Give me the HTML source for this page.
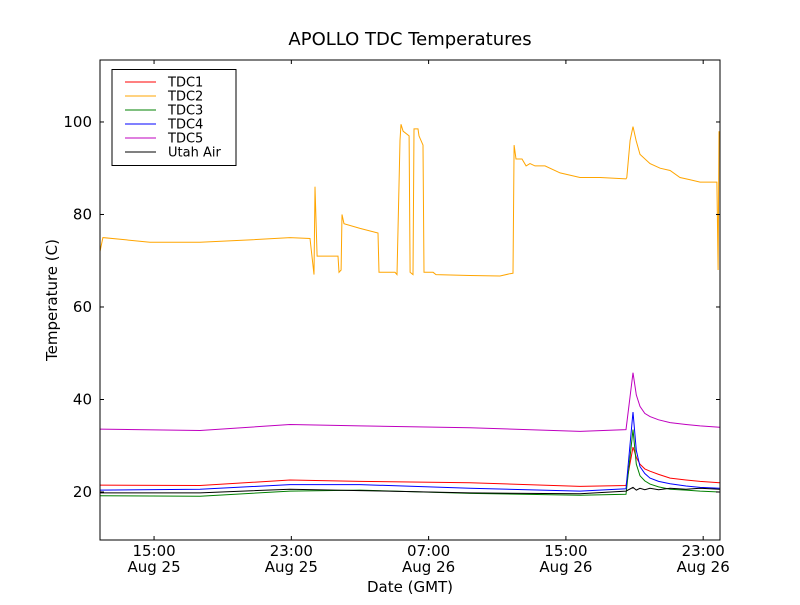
<!DOCTYPE html>
<html><head><meta charset="utf-8"><style>
body{margin:0;background:#fff}
svg text{font-family:"DejaVu Sans","Liberation Sans",sans-serif}
</style></head><body>
<svg id="chart" width="800" height="600" xmlns="http://www.w3.org/2000/svg">
<rect width="800" height="600" fill="#fff"/>
<text x="410" y="45" font-size="18" text-anchor="middle">APOLLO TDC Temperatures</text>
<g id="series"></g>
<rect x="100" y="60" width="620" height="480" fill="none" stroke="#000" stroke-width="1"/>
<g id="ticks"></g>
<text x="410" y="592" font-size="15" text-anchor="middle">Date (GMT)</text>
<text transform="translate(57,300) rotate(-90)" font-size="15" text-anchor="middle">Temperature (C)</text>
<g id="legend"></g>
</svg>
<script>
const seriesNames=["TDC1","TDC2","TDC3","TDC4","TDC5","Utah Air"];
const seriesColors=["#ff0000","#ffa500","#008000","#0000ff","#bf00bf","#000000"];
const tdc2Times=[11.85,12.02,14.76,17.68,20.59,22.92,24.09,24.32,24.38,24.5,25.72,25.78,25.9,25.95,26.07,27.0,28.05,28.11,29.04,29.16,29.33,29.39,29.51,29.86,29.92,30.09,30.15,30.38,30.44,30.67,30.73,31.26,31.43,33.41,35.16,35.74,35.92,35.98,36.09,36.44,36.68,36.91,37.2,37.78,38.66,39.82,41.0,42.5,42.55,42.74,42.91,43.09,43.32,43.9,44.49,45.07,45.65,46.24,46.82,47.8,47.87,47.92];
const tdc2Values=[72,75,74,74,74.5,75,74.8,67,86,71,71,67.5,68,80,78,77,76,67.5,67.5,67,96,99.5,98,97,67.5,67,98.5,98.5,97,95,67.5,67.5,67,66.8,66.7,67.2,67.3,95,92,92,90.5,91,90.5,90.5,89,88,88,87.7,88,96,99,96,93,91,90,89.5,88,87.5,87,87,68,98];
const times=[11.85,17.68,22.92,27.0,33.41,39.82,42.5,42.91,43.1,43.32,43.6,43.9,44.4,45.07,46.0,46.82,47.95];
const tdc1Values=[21.5,21.4,22.6,22.3,22.0,21.2,21.4,29.7,27.5,26,25,24.5,23.8,23,22.6,22.3,22];
const tdc3Values=[19.2,19.1,20.2,20.4,19.7,19.3,19.5,33.5,26,23.5,22.4,21.7,21.1,20.6,20.4,20.2,20];
const tdc4Values=[20.4,20.6,21.6,21.6,20.8,20.2,20.7,37.3,29,25.5,24,23,22.3,21.8,21.3,21,20.8];
const tdc5Values=[33.6,33.3,34.6,34.3,33.9,33.1,33.5,45.8,41,38.5,37,36.3,35.6,35,34.6,34.3,34];
const airValues=[19.8,19.8,20.6,20.3,19.8,19.6,20.2,21,20.4,20.8,20.5,20.8,20.5,20.8,20.6,20.8,20.6];
const yTicks=[20,40,60,80,100];
const xTickHours=[15,23,31,39,47];
const xTickTimes=["15:00","23:00","07:00","15:00","23:00"];
const xTickDates=["Aug 25","Aug 25","Aug 26","Aug 26","Aug 26"];

const NS="http://www.w3.org/2000/svg";
const X0=100,X1=720,Y0=60,Y1=540,HMIN=11.85,HMAX=47.98,VMIN=9.62,VMAX=113.4;
function xs(h){return X0+(h-HMIN)/(HMAX-HMIN)*(X1-X0);}
function ys(v){return Y1-(v-VMIN)/(VMAX-VMIN)*(Y1-Y0);}
function mk(tag,attrs,parent){const e=document.createElementNS(NS,tag);for(const k in attrs)e.setAttribute(k,attrs[k]);parent.appendChild(e);return e;}

const sg=document.getElementById('series');
const allSeries=[[times,tdc1Values],[tdc2Times,tdc2Values],[times,tdc3Values],[times,tdc4Values],[times,tdc5Values],[times,airValues]];
allSeries.forEach((s,i)=>{
  const d=s[0].map((t,j)=>(j?'L':'M')+xs(t).toFixed(1)+' '+ys(s[1][j]).toFixed(1)).join(' ');
  const p=mk('path',{d:d,fill:'none',stroke:seriesColors[i],'stroke-width':1},sg);
  
  
});

const tg=document.getElementById('ticks');
yTicks.forEach(v=>{
  const y=ys(v);
  mk('line',{x1:X0,x2:X0+4,y1:y,y2:y,stroke:'#000'},tg);
  mk('line',{x1:X1-4,x2:X1,y1:y,y2:y,stroke:'#000'},tg);
  const t=mk('text',{x:X0-8,y:y+5,'font-size':15,'text-anchor':'end'},tg);
  
  
  t.textContent=v;
});
xTickHours.forEach((h,i)=>{
  const x=xs(h);
  mk('line',{x1:x,x2:x,y1:Y1,y2:Y1-4,stroke:'#000'},tg);
  mk('line',{x1:x,x2:x,y1:Y0,y2:Y0+4,stroke:'#000'},tg);
  const t=mk('text',{x:x,y:556,'font-size':15,'text-anchor':'middle'},tg);
  
  
  t.textContent=xTickTimes[i];
  const t2=mk('text',{x:x,y:572,'font-size':15,'text-anchor':'middle'},tg);
  
  
  t2.textContent=xTickDates[i];
});

const lg=document.getElementById('legend');
mk('rect',{x:112,y:69.5,width:124,height:96,fill:'#fff',stroke:'#000'},lg);
seriesNames.forEach((n,i)=>{
  const y=82+i*14;
  const l=mk('line',{x1:125,x2:156,y1:y,y2:y,stroke:seriesColors[i]},lg);
  
  
  const t=mk('text',{x:168,y:y+4.5,'font-size':13},lg);
  
  
  t.textContent=n;
});
</script>
</body></html>
